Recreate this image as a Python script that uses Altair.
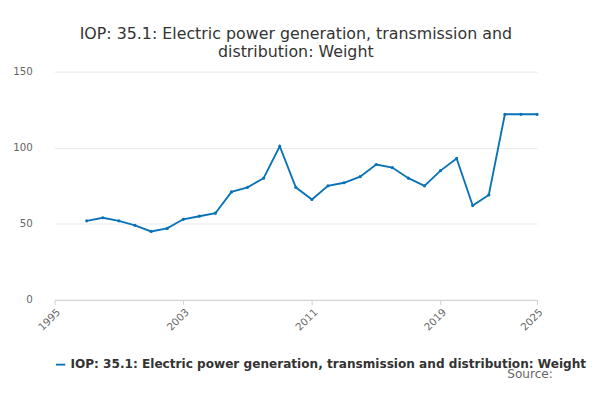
import altair as alt
import pandas as pd

years = list(range(1997, 2026))
weights = [52, 54, 52, 49, 45, 47, 53, 55, 57, 71, 74, 80, 101, 74, 66, 75, 77, 81,
           89, 87, 80, 75, 85, 93, 62, 69, 122, 122, 122]
series = "IOP: 35.1: Electric power generation, transmission and distribution: Weight"
tick_years = [1995, 2003, 2011, 2019, 2025]

df = pd.DataFrame({"Year": years, "Weight": weights, "Series": series})

line = alt.Chart(df).mark_line(point=alt.OverlayMarkDef(size=12, filled=True), strokeWidth=2).encode(
    x=alt.X("Year:Q", scale=alt.Scale(domain=[1995, 2025], nice=False),
            axis=alt.Axis(values=tick_years, format="d", labelAngle=-45, title=None,
                          grid=False, tickColor="#ccc", domainColor="#ccc",
                          labelColor="#666", labelFontSize=11)),
    y=alt.Y("Weight:Q", scale=alt.Scale(domain=[0, 150]),
            axis=alt.Axis(values=[0, 50, 100, 150], title=None, domain=False, ticks=False,
                          gridColor="#e6e6e6", labelColor="#666", labelFontSize=11, labelPadding=24)),
    color=alt.Color("Series:N", scale=alt.Scale(range=["#0a73b8"]),
                    legend=alt.Legend(orient="bottom", title=None, symbolType="stroke",
                                      labelFontSize=13, labelFontWeight="bold", labelColor="#333",
                                      labelLimit=600, symbolStrokeWidth=2, offset=28)),
)

source = alt.Chart(pd.DataFrame({"t": ["Source:"]})).mark_text(
    align="right", fontSize=13, color="#666", font="DejaVu Sans"
).encode(text="t:N", x=alt.value(535), y=alt.value(325))

chart = (line + source).properties(
    width=518, height=245,
    title=alt.TitleParams(["IOP: 35.1: Electric power generation, transmission and", "distribution: Weight"],
                          fontSize=17, fontWeight="normal", color="#333", anchor="middle", offset=6),
).configure(font="DejaVu Sans", view=alt.ViewConfig(stroke=None))

chart.save("out.html", embed_options={"renderer": "svg", "actions": False})
